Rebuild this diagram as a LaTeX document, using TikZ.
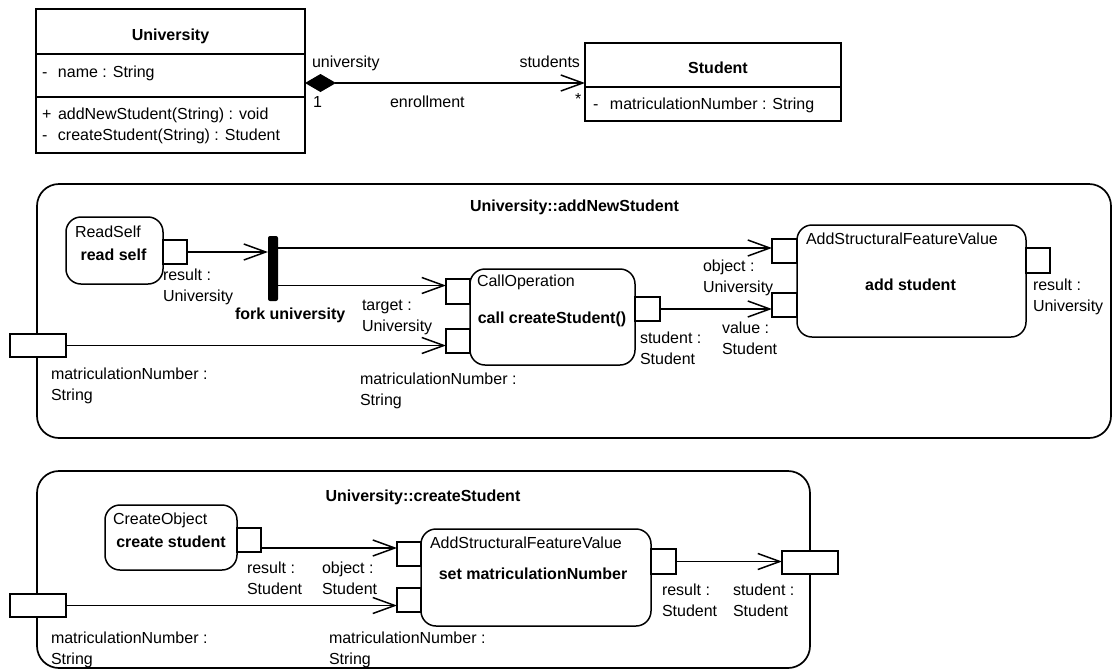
\documentclass[tikz,border=0pt]{standalone}
\usepackage{fontspec}
\setmainfont{Liberation Sans}
\usetikzlibrary{arrows.meta,calc}
\begin{document}
\begin{tikzpicture}[x=1pt,y=-1pt,
  every node/.style={font=\fontsize{16}{21}\selectfont, inner sep=0pt, outer sep=0pt},
  bf/.style={font=\fontsize{16}{21}\selectfont\bfseries},
  sz/.style 2 args={minimum width=#1pt, minimum height=#2pt},
  cls/.style={draw, line width=1.5pt},
  act/.style={draw, line width=1.5pt, rounded corners=15pt},
  pin/.style={draw, line width=1.5pt, fill=white},
  frm/.style={draw, line width=1.7pt, rounded corners=22pt},
  lbl/.style={anchor=base west, align=left},
  flow/.style={line width=1.5pt, -{Straight Barb[length=22pt,width=16pt,line width=1.5pt]}},
  assoc/.style={line width=1.5pt, {Diamond[length=31pt,width=18pt]}-{Straight Barb[length=22pt,width=16pt,line width=1.5pt]}}
]
\useasboundingbox (0,0) rectangle (1112,670);

% ---------- class diagram ----------
\node[cls, sz={269}{144}] (uni) at (170.5,81) {};
\draw[line width=1.5pt] (uni.west |- 0,54) coordinate (ud1a) -- (uni.east |- 0,54) coordinate (ud1b);
\draw[line width=1.5pt] (uni.west |- 0,97) coordinate (ud2a) -- (uni.east |- 0,97) coordinate (ud2b);
\node[bf, anchor=base] (unit) at (170.5,40) {University};
\node[lbl] (unia) at (42,77) {\makebox[16pt][l]{-}name : String};
\node[lbl] (unio1) at (42,119) {\makebox[16pt][l]{+}addNewStudent(String) : void};
\node[lbl] (unio2) at (42,140) {\makebox[16pt][l]{-}createStudent(String) : Student};

\node[cls, sz={256}{78}] (stu) at (713,82) {};
\draw[line width=1.5pt] (stu.west |- 0,87) coordinate (sd1a) -- (stu.east |- 0,87) coordinate (sd1b);
\node[bf, anchor=base] (stut) at (718,73) {Student};
\node[lbl] (stua) at (593,109) {\makebox[17pt][l]{-}matriculationNumber : String};

\coordinate (as1) at ($(uni.east)+(0,2)$);
\draw[assoc] (as1) -- (as1 -| stu.west);
\node[lbl] (lu) at (312,67) {university};
\node[lbl] (l1) at (313,107) {1};
\node[lbl] (le) at (390,107) {enrollment};
\node[anchor=base east] (ls) at (580,67) {students};
\node[lbl] (lstar) at (575,104) {*};

% ---------- activity addNewStudent ----------
\node[frm, sz={1074}{254}] (fr1) at (574,311) {};
\node[bf, anchor=base] (fr1t) at (574.5,211) {University::addNewStudent};

\node[act, sz={97}{67}] (rs) at (114.5,250.5) {};
\node[lbl] (rst) at (75,237) {ReadSelf};
\node[bf, anchor=base] (rsn) at (113.5,260) {read self};
\node[pin, sz={24}{24}] (rsout) at (175,252) {};
\node[lbl] (rsl) at (163,301) {result :\\University};

\node[fill=black, rounded corners=2pt, sz={10}{65}] (fork) at (273,268.5) {};
\node[bf, lbl] (forkl) at (235,319) {fork university};

\node[act, sz={165}{96}] (co) at (552.5,317) {};
\node[lbl] (cot) at (477,286) {CallOperation};
\node[bf, anchor=base] (con) at (552,323) {call createStudent()};
\node[pin, sz={24}{25}] (cotarget) at (458,291.5) {};
\node[pin, sz={24}{24}] (comat) at (458,341) {};
\node[pin, sz={25}{24}] (coout) at (647.5,309) {};
\node[lbl] (cotl) at (362,331) {target :\\University};
\node[lbl] (comatl) at (360,405) {matriculationNumber :\\String};
\node[lbl] (coutl) at (640,364) {student :\\Student};

\node[act, sz={229}{112}] (as) at (911.5,281) {};
\node[lbl] (ast) at (806,244) {AddStructuralFeatureValue};
\node[bf, anchor=base] (asn) at (910.5,290) {add student};
\node[pin, sz={25}{24}] (asobj) at (784.5,251) {};
\node[pin, sz={25}{24}] (asval) at (784.5,305) {};
\node[pin, sz={24}{25}] (asres) at (1038,260.5) {};
\node[lbl] (asobjl) at (703,292) {object :\\University};
\node[lbl] (asvall) at (722,354) {value :\\Student};
\node[lbl] (asresl) at (1033,311) {result :\\University};

\node[pin, sz={56}{23}] (p1) at (38,345.5) {};
\node[lbl] (p1l) at (51,400) {matriculationNumber :\\String};

\draw[flow] (rsout.east) -- (rsout.east -| fork.west);
\coordinate (a1) at ($(asobj.west)+(0,-3)$);
\draw[flow] (fork.east |- a1) -- (a1);
\coordinate (a2) at ($(cotarget.west)+(0,-6)$);
\draw[flow] (fork.east |- a2) -- (a2);
\draw[flow] (p1.east) -- (p1.east -| comat.west);
\draw[flow] (coout.east) -- (coout.east -| asval.west);

% ---------- activity createStudent ----------
\node[frm, sz={773}{197}] (fr2) at (423.5,569.5) {};
\node[bf, anchor=base] (fr2t) at (423,501) {University::createStudent};

\node[act, sz={132}{65}] (cob) at (171,537.5) {};
\node[lbl] (cobt) at (113,524) {CreateObject};
\node[bf, anchor=base] (cobn) at (171,547) {create student};
\node[pin, sz={24}{24}] (cobout) at (249,540) {};
\node[lbl] (cobl) at (247,594) {result :\\Student};

\node[act, sz={230}{97}] (sm) at (536,577.5) {};
\node[lbl] (smt) at (430,548) {AddStructuralFeatureValue};
\node[bf, anchor=base] (smn) at (533,579) {set matriculationNumber};
\node[pin, sz={24}{24}] (smobj) at (409,554) {};
\node[pin, sz={24}{24}] (smmat) at (409,600) {};
\node[pin, sz={25}{25}] (smres) at (663.5,561.5) {};
\node[lbl] (smobjl) at (322,594) {object :\\Student};
\node[lbl] (smmatl) at (329,664) {matriculationNumber :\\String};
\node[lbl] (smresl) at (662,616) {result :\\Student};

\node[pin, sz={56}{23}] (p2) at (38,605.5) {};
\node[lbl] (p2l) at (51,664) {matriculationNumber :\\String};
\node[pin, sz={56}{23}] (p3) at (810,562.5) {};
\node[lbl] (p3l) at (733,616) {student :\\Student};

\coordinate (b1) at ($(smobj.west)+(0,-6)$);
\draw[flow] (cobout.east |- b1) -- (b1);
\draw[flow] (p2.east) -- (p2.east -| smmat.west);
\draw[flow] (smres.east) -- (smres.east -| p3.west);
\end{tikzpicture}
\end{document}
